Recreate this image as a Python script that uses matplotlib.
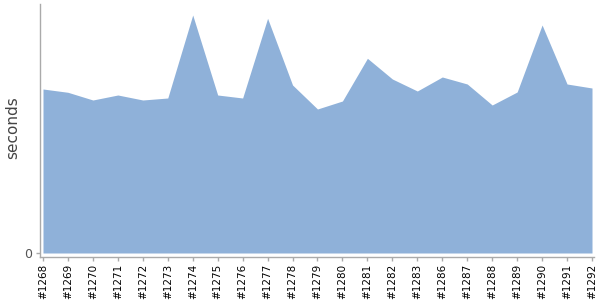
import matplotlib
matplotlib.use("Agg")
import matplotlib.pyplot as plt
import numpy as np

builds = ["#1268", "#1269", "#1270", "#1271", "#1272", "#1273", "#1274", "#1275",
          "#1276", "#1277", "#1278", "#1279", "#1280", "#1281", "#1282", "#1283",
          "#1286", "#1287", "#1288", "#1289", "#1290", "#1291", "#1292"]
seconds = [164, 160.7, 153, 158, 153, 155, 238, 158,
           155, 234.7, 168, 144, 152, 194.7, 174, 162,
           176, 169, 148, 161, 228, 169, 165]

fig = plt.figure(figsize=(6, 3), dpi=100)
ax = fig.add_axes([40/600, 1 - 257/300, (594-40)/600, (257-4)/300])

x = np.arange(len(builds))
ax.fill_between(x, 0, seconds, color="#8fb1d9", linewidth=0)

ax.set_xlim(-0.12, len(builds) - 1 + 0.08)
ax.set_ylim(-4, 249)

ax.set_xticks(x)
ax.set_xticklabels(builds, rotation=90, fontsize=7.5, color="black")
ax.set_yticks([0])
ax.set_yticklabels(["0"], fontsize=9, color="#555555")
ax.set_ylabel("seconds", fontsize=11, color="#444444", va="center")
ax.yaxis.set_label_coords((13 - 40) / 554, 0.51)

for s in ["top", "right"]:
    ax.spines[s].set_visible(False)
for s in ["left", "bottom"]:
    ax.spines[s].set_color("#aaaaaa")
    ax.spines[s].set_linewidth(1)
ax.tick_params(axis="both", colors="#aaaaaa", length=3, width=1)
for lab in ax.get_xticklabels():
    lab.set_color("black")
for lab in ax.get_yticklabels():
    lab.set_color("#555555")
ax.tick_params(axis="x", pad=2)
ax.tick_params(axis="y", pad=3)

fig.savefig("out.png", dpi=100)
